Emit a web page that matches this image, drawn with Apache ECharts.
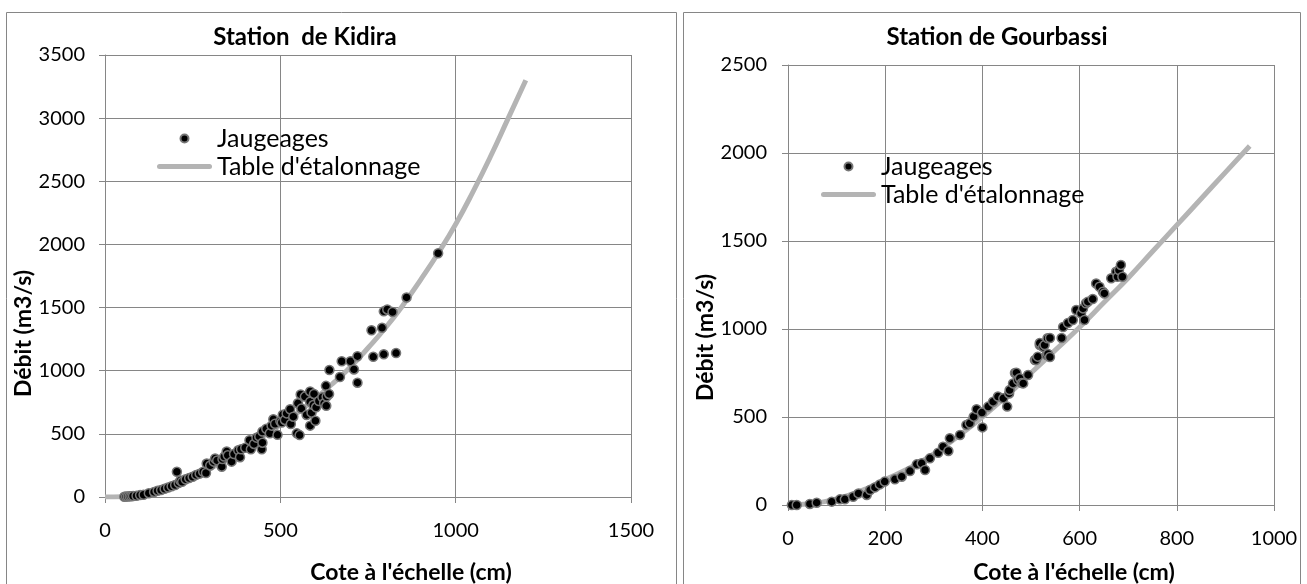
<!DOCTYPE html>
<html>
<head>
<meta charset="utf-8">
<script src="https://cdn.jsdelivr.net/npm/echarts@6/dist/echarts.min.js"></script>
<style>
  html, body { margin: 0; padding: 0; background: #fff; }
  #chart { width: 1307px; height: 584px; }
</style>
</head>
<body>
<div id="chart"></div>
<script>
// Station de Kidira : jaugeages [cote (cm), débit (m3/s)]
const kidiraJaugeages = [
  [55, 2], [60, 3], [65, 4], [70, 5], [75, 6], [80, 8], [90, 10], [100, 15], [110, 18], [125, 30],
  [140, 40], [150, 50], [160, 55], [170, 65], [180, 75], [190, 85], [200, 95], [205, 200], [210, 110],
  [215, 130], [220, 120], [230, 140], [240, 150], [250, 160], [260, 175], [270, 185], [280, 200],
  [288, 190], [290, 265], [300, 250], [310, 280], [314, 305], [320, 290], [333, 240], [335, 300],
  [340, 320], [347, 360], [350, 330], [361, 280], [368, 340], [380, 370], [385, 315], [388, 378],
  [400, 390], [412, 450], [416, 378], [425, 420], [432, 470], [440, 480], [447, 378], [449, 430],
  [449, 518], [460, 540], [470, 505], [475, 565], [480, 615], [485, 580], [492, 492], [500, 600],
  [504, 590], [507, 652], [513, 610], [518, 662], [528, 695], [530, 578], [537, 636], [547, 504],
  [550, 742], [555, 490], [558, 812], [560, 700], [570, 795], [575, 650], [585, 836], [585, 755],
  [585, 565], [589, 668], [594, 728], [596, 816], [600, 604], [602, 710], [610, 760], [620, 790],
  [625, 742], [630, 880], [631, 722], [632, 795], [639, 816], [640, 1005], [670, 950], [675, 1075],
  [700, 1075], [710, 1010], [720, 1115], [720, 905], [760, 1320], [765, 1110], [790, 1340],
  [795, 1130], [795, 1470], [805, 1485], [820, 1465], [830, 1140], [860, 1580], [950, 1930]
];
// Station de Kidira : table d'étalonnage
const kidiraTable = [
  [0, 0], [50, 2], [100, 15], [150, 45], [200, 90], [250, 150], [300, 225], [350, 305], [400, 395],
  [450, 480], [500, 570], [550, 670], [600, 780], [650, 900], [700, 1030], [750, 1180], [800, 1340],
  [850, 1520], [900, 1720], [950, 1930], [1000, 2160], [1050, 2420], [1100, 2700], [1150, 3000],
  [1200, 3300]
];
// Station de Gourbassi : jaugeages
const gourbassiJaugeages = [
  [8, 0], [18, 0], [45, 6], [59, 13], [90, 19], [107, 32], [117, 32], [134, 47], [145, 66], [162, 57],
  [169, 85], [179, 100], [189, 117], [199, 133], [220, 146], [234, 161], [251, 193], [265, 231],
  [275, 237], [282, 199], [292, 265], [309, 297], [319, 331], [330, 307], [333, 379], [354, 398],
  [367, 455], [374, 464], [382, 502], [388, 544], [399, 525], [400, 441], [412, 559], [422, 587],
  [432, 616], [443, 606], [451, 559], [455, 634], [456, 653], [463, 691], [467, 750], [470, 752],
  [473, 710], [477, 720], [481, 693], [484, 691], [494, 739], [508, 824], [510, 824], [514, 843],
  [518, 909], [518, 920], [525, 898], [528, 909], [532, 852], [534, 947], [535, 858], [539, 949],
  [539, 841], [563, 949], [566, 1011], [576, 1034], [586, 1051], [593, 1108], [603, 1089],
  [607, 1117], [610, 1051], [613, 1146], [617, 1155], [627, 1170], [634, 1259], [641, 1240],
  [648, 1212], [651, 1202], [665, 1288], [675, 1325], [678, 1297], [681, 1335], [685, 1364], [688, 1297]
];
// Station de Gourbassi : table d'étalonnage
const gourbassiTable = [
  [0, 0], [50, 8], [100, 35], [150, 80], [200, 145], [250, 210], [300, 290], [350, 390], [400, 500],
  [450, 620], [500, 750], [550, 880], [600, 1010], [650, 1150], [700, 1290], [750, 1440], [800, 1590],
  [850, 1740], [900, 1890], [950, 2040]
];

const titles = ['Station  de Kidira', 'Station de Gourbassi'];
const seriesNames = ['Jaugeages', "Table d'étalonnage"];
const xName = "Cote à l'échelle (cm)";
const yName = 'Débit (m3/s)';

const grey = '#868686';
const font = 'Lato';
// icône de légende : trait gris arrondi
const lineIcon = 'path://M2.5,0 H52.5 A2.5,2.5 0 0 1 52.5,5 H2.5 A2.5,2.5 0 0 1 2.5,0 Z';

const chart = echarts.init(document.getElementById('chart'));

function xAxisOf(gridIndex, max, interval, gap) {
  return {
    gridIndex: gridIndex, type: 'value', min: 0, max: max, interval: interval,
    name: xName, nameLocation: 'middle', nameGap: gap,
    nameTextStyle: { fontFamily: font, fontSize: 23, fontWeight: 'bold', color: '#000', padding: [0, 0, 0, 86] },
    axisLine: { show: true, onZero: false, lineStyle: { color: grey, width: 1 } },
    axisTick: { show: true, length: 6, lineStyle: { color: grey } },
    axisLabel: { fontFamily: font, fontSize: 20, color: '#000', margin: 24, formatter: v => String(v) },
    splitLine: { show: true, lineStyle: { color: grey, width: 1 } }
  };
}
function yAxisOf(gridIndex, max, gap, labelMargin, namePad) {
  return {
    gridIndex: gridIndex, type: 'value', min: 0, max: max, interval: 500,
    name: yName, nameLocation: 'middle', nameGap: gap,
    nameTextStyle: { fontFamily: font, fontSize: 23, fontWeight: 'bold', color: '#000', padding: [0, namePad, 0, 0] },
    axisLine: { show: true, onZero: false, lineStyle: { color: grey, width: 1 } },
    axisTick: { show: true, length: 6, lineStyle: { color: grey } },
    axisLabel: { fontFamily: font, fontSize: 20, color: '#000', margin: labelMargin, formatter: v => String(v) },
    splitLine: { show: true, lineStyle: { color: grey, width: 1 } }
  };
}
function legendOf(left, top) {
  return {
    orient: 'vertical', left: left, top: top, itemWidth: 55, itemHeight: 8, itemGap: 3,
    selectedMode: false,
    data: [{ name: seriesNames[0], icon: 'circle' }, { name: seriesNames[1], icon: lineIcon }],
    textStyle: { fontFamily: font, fontSize: 25, color: '#000' }
  };
}
function tableSeries(idx, data) {
  return {
    name: seriesNames[1], type: 'line', xAxisIndex: idx, yAxisIndex: idx, data: data,
    smooth: true, symbol: 'none', z: 2,
    lineStyle: { color: '#b4b4b4', width: 5 }, itemStyle: { color: '#b4b4b4' }
  };
}
function pointSeries(idx, data) {
  return {
    name: seriesNames[0], type: 'scatter', xAxisIndex: idx, yAxisIndex: idx, data: data,
    symbolSize: 9, z: 3,
    itemStyle: { color: '#000', borderColor: '#767676', borderWidth: 1.5, opacity: 1 }
  };
}

chart.setOption({
  animation: false,
  textStyle: { fontFamily: font },
  title: [
    { text: titles[0], left: 300, top: 20, textAlign: 'center',
      textStyle: { fontFamily: font, fontSize: 24, fontWeight: 'bold', color: '#000' } },
    { text: titles[1], left: 992, top: 20, textAlign: 'center',
      textStyle: { fontFamily: font, fontSize: 24, fontWeight: 'bold', color: '#000' } }
  ],
  legend: [legendOf(152, 121), legendOf(816, 149)],
  grid: [
    { left: 105, top: 55, width: 526, height: 442, outerBoundsMode: 'none' },
    { left: 788, top: 65, width: 486, height: 440, outerBoundsMode: 'none' }
  ],
  xAxis: [xAxisOf(0, 1500, 500, 64), xAxisOf(1, 1000, 200, 56)],
  yAxis: [yAxisOf(0, 3500, 66, 20, 115), yAxisOf(1, 2500, 71, 21, 105)],
  graphic: [
    { type: 'rect', shape: { x: 6.5, y: 12.5, width: 670, height: 620 }, silent: true,
      style: { fill: 'none', stroke: grey, lineWidth: 1 } },
    { type: 'rect', shape: { x: 683.5, y: 12.5, width: 617, height: 620 }, silent: true,
      style: { fill: 'none', stroke: grey, lineWidth: 1 } }
  ],
  series: [
    tableSeries(0, kidiraTable), pointSeries(0, kidiraJaugeages),
    tableSeries(1, gourbassiTable), pointSeries(1, gourbassiJaugeages)
  ]
});
</script>
</body>
</html>
